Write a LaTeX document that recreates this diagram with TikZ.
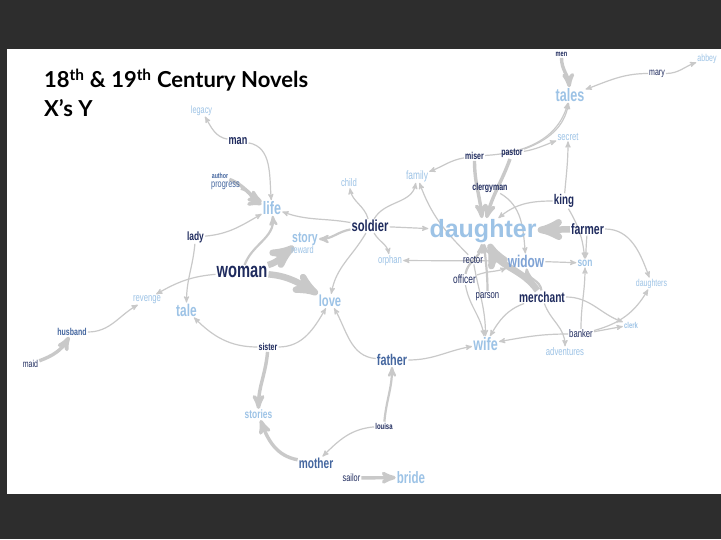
\documentclass[tikz,border=0pt]{standalone}
\usepackage{fontspec}
\usepackage{tikz}
\usetikzlibrary{arrows,backgrounds}

\newfontfamily\wordfont[FakeStretch=0.7]{Liberation Sans}
\newfontfamily\wideword{Liberation Sans}
\newfontfamily\titlefont{Lato}

\definecolor{navy}{HTML}{1F2B5E}
\definecolor{midblue}{HTML}{44669F}
\definecolor{softblue}{HTML}{7FA3D5}
\definecolor{paleblue}{HTML}{9DC3E6}
\definecolor{edgegray}{HTML}{C9C9C9}
\definecolor{bgdark}{HTML}{2D2D2D}

\begin{document}
\begin{tikzpicture}[x=1pt,y=1pt,->,>=stealth',
	every node/.style={inner sep=1pt},
	navynode/.style={text=navy,font=\wordfont\bfseries\fontsize{#1}{#1}\selectfont},
	navythin/.style={text=navy,font=\wordfont\fontsize{#1}{#1}\selectfont},
	bluenode/.style={text=midblue,font=\wordfont\bfseries\fontsize{#1}{#1}\selectfont},
	bluethin/.style={text=midblue,font=\wordfont\fontsize{#1}{#1}\selectfont},
	softnode/.style={text=softblue,font=\wordfont\bfseries\fontsize{#1}{#1}\selectfont},
	palenode/.style={text=paleblue,font=\wordfont\bfseries\fontsize{#1}{#1}\selectfont},
	palethin/.style={text=paleblue,font=\wordfont\fontsize{#1}{#1}\selectfont},
	bignode/.style={text=paleblue,font=\wideword\bfseries\fontsize{#1}{#1}\selectfont},
	link/.style={draw=edgegray,line width=1.2pt},
	midlink/.style={draw=edgegray,line width=2.2pt},
	heavylink/.style={draw=edgegray,line width=3.4pt},
	fatlink/.style={draw=edgegray,line width=6.5pt}]
	
	% frame
	\begin{scope}[on background layer]
		\fill[bgdark] (0,0) rectangle (721,539);
		\fill[white] (7,45) rectangle (721,490);
	\end{scope}
	\useasboundingbox (0,0) rectangle (721,539);
	
	\node [anchor=base west,font=\titlefont\bfseries\fontsize{22}{22}\selectfont] (title) at (43, 451) {18\textsuperscript{th} \& 19\textsuperscript{th} Century Novels};
	\node [anchor=base west,font=\titlefont\bfseries\fontsize{22}{22}\selectfont] (subtitle) at (43, 422) {X’s Y};
	
	\node [navynode=8] (men) at (561.5, 484.5) {men};
	\node [palethin=10] (abbey) at (707, 480.5) {abbey};
	\node [navythin=10] (mary) at (657, 465.5) {mary};
	\node [palenode=18] (tales) at (570, 444) {tales};
	\node [palethin=11] (secret) at (568, 402.5) {secret};
	\node [palethin=10.5] (legacy) at (201.5, 428.5) {legacy};
	\node [navynode=13] (man) at (238, 398) {man};
	\node [navynode=10] (miser) at (474.5, 383) {miser};
	\node [navynode=10] (pastor) at (512, 385.5) {pastor};
	\node [palethin=12] (family) at (417, 363) {family};
	\node [navynode=10] (clergyman) at (490, 351.5) {clergyman};
	\node [palethin=11] (child) at (349, 356) {child};
	\node [bluenode=7.5] (author) at (220, 363) {author};
	\node [bluethin=10.5] (progress) at (225.5, 353.5) {progress};
	\node [navynode=14] (king) at (564, 338) {king};
	\node [palenode=18] (life) at (272, 331) {life};
	\node [navynode=16] (soldier) at (370, 313) {soldier};
	\node [bignode=25] (daughter) at (483, 308) {daughter};
	\node [navynode=15] (farmer) at (587.5, 310) {farmer};
	\node [navynode=12] (lady) at (195.5, 302) {lady};
	\node [palenode=15] (story) at (305, 300) {story};
	\node [palethin=10.5] (reward) at (302.5, 289.5) {reward};
	\node [palethin=11] (orphan) at (390, 278.5) {orphan};
	\node [navythin=11] (rector) at (473, 279.5) {rector};
	\node [softnode=17] (widow) at (526, 278) {widow};
	\node [palenode=12] (son) at (585, 276) {son};
	\node [navynode=21] (woman) at (242, 267) {woman};
	\node [navythin=12] (officer) at (464.5, 259.5) {officer};
	\node [palethin=11] (revenge) at (147, 239.5) {revenge};
	\node [palenode=16] (love) at (330, 238) {love};
	\node [palenode=17] (tale) at (186.5, 229) {tale};
	\node [palethin=10] (daughters) at (651.5, 255.5) {daughters};
	\node [navythin=11] (parson) at (487.5, 242.5) {parson};
	\node [navynode=14.5] (merchant) at (542, 242) {merchant};
	\node [palenode=8.5] (clerk) at (631, 214) {clerk};
	\node [bluenode=10] (husband) at (72, 207) {husband};
	\node [navythin=11] (banker) at (581, 205) {banker};
	\node [navynode=10] (sister) at (268, 192) {sister};
	\node [palenode=18] (wife) at (485.5, 195) {wife};
	\node [palethin=11] (adventures) at (565, 187.5) {adventures};
	\node [navythin=10] (maid) at (30.5, 175) {maid};
	\node [bluenode=15.5] (father) at (392, 179) {father};
	\node [palenode=12] (stories) at (258.5, 124.5) {stories};
	\node [navynode=8.5] (louisa) at (384, 113) {louisa};
	\node [bluenode=14.5] (mother) at (316, 76) {mother};
	\node [navythin=10.5] (sailor) at (351.5, 61) {sailor};
	\node [palenode=16.5] (bride) at (411, 61.5) {bride};
	
	\begin{scope}[on background layer]
	\draw [heavylink] (men) to [out=-90, in=95] (tales);
	\draw [link] (mary) to [out=180, in=20] (tales);
	\draw [link] (mary) to [out=0, in=200] (abbey);
	\draw [link] (pastor) to [out=20, in=-100] (tales);
	\draw [link] (pastor) to [out=10, in=200] (secret);
	\draw [link] (miser) to [out=3, in=-105] (tales);
	\draw [link] (miser) to [out=190, in=20] (family);
	\draw [heavylink] (miser) to [out=-90, in=95] (daughter);
	\draw [heavylink] (pastor) to [out=-110, in=75] (daughter);
	\draw [link] (clergyman) to [out=-30, in=95] (widow);
	\draw [link] (king) to [out=85, in=-90] (secret);
	\draw [link] (king) to [out=180, in=40] (daughter);
	\draw [link] (king) to [out=-60, in=95] (son);
	\draw [fatlink] (farmer) to (daughter);
	\draw [link] (farmer) to [out=-95, in=85] (son);
	\draw [link] (farmer) to [out=0, in=110] (daughters);
	\draw [link] (widow) to (son);
	\draw [link] (widow) to (orphan);
	\draw [link] (rector) to [out=135, in=-70] (family);
	\draw [midlink] (officer) to [out=80, in=-95] (daughter);
	\draw [midlink] (parson) to [out=90, in=-85] (daughter);
	\draw [link] (officer) to [out=20, in=200] (widow);
	\draw [link] (officer) to [out=-80, in=100] (wife);
	\draw [link] (rector) to [out=-80, in=90] (wife);
	\draw [fatlink] (merchant) to [out=125, in=-65] (daughter);
	\draw [midlink] (merchant) to [out=95, in=-85] (widow);
	\draw [link] (merchant) to [out=200, in=60] (wife);
	\draw [link] (merchant) to [out=-70, in=90] (adventures);
	\draw [link] (merchant) to [out=0, in=160] (clerk);
	\draw [link] (banker) to [out=90, in=-90] (son);
	\draw [link] (banker) to [out=180, in=10] (wife);
	\draw [link] (banker) to [out=10, in=190] (clerk);
	\draw [link] (banker) to [out=15, in=-120] (daughters);
	\draw [link] (soldier) to [out=170, in=-20] (life);
	\draw [midlink] (soldier) to [out=190, in=0] (story);
	\draw [link] (soldier) to [out=105, in=-80] (child);
	\draw [link] (soldier) to [out=60, in=-100] (family);
	\draw [link] (soldier) to (daughter);
	\draw [link] (soldier) to [out=-60, in=100] (orphan);
	\draw [link] (soldier) to [out=-120, in=80] (love);
	\draw [link] (man) to [out=170, in=-60] (legacy);
	\draw [link] (man) to [out=-10, in=95] (life);
	\draw [heavylink] (author) to [out=-20, in=150] (life);
	\draw [heavylink] (progress) to [out=-10, in=160] (life);
	\draw [link] (lady) to [out=5, in=210] (life);
	\draw [link] (lady) to [out=-95, in=90] (tale);
	\draw [midlink] (woman) to [out=70, in=-85] (life);
	\draw [fatlink] (woman) to [out=15, in=-145] (story);
	\draw [fatlink] (woman) to [out=-5, in=150] (love);
	\draw [link] (woman) to [out=185, in=30] (revenge);
	\draw [link] (husband) to [out=0, in=210] (revenge);
	\draw [heavylink] (maid) to [out=20, in=-120] (husband);
	\draw [link] (sister) to [out=180, in=-45] (tale);
	\draw [link] (sister) to [out=0, in=-120] (love);
	\draw [heavylink] (sister) to [out=-95, in=90] (stories);
	\draw [link] (father) to [out=175, in=-60] (love);
	\draw [link] (father) to [out=0, in=190] (wife);
	\draw [midlink] (louisa) to [out=85, in=-90] (father);
	\draw [link] (louisa) to [out=185, in=45] (mother);
	\draw [heavylink] (mother) to [out=170, in=-70] (stories);
	\draw [heavylink] (sailor) to (bride);
	\end{scope}
\end{tikzpicture}
\end{document}
